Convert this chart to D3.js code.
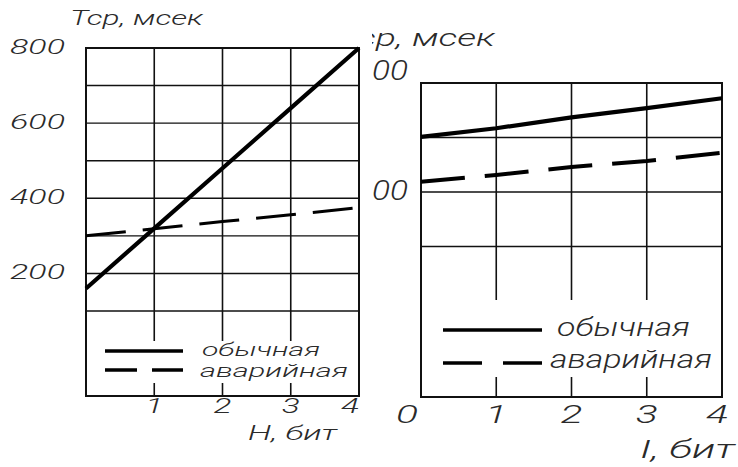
<!DOCTYPE html>
<html>
<head>
<meta charset="utf-8">
<script src="https://cdn.jsdelivr.net/npm/d3@7"></script>
<style>
  html, body { margin: 0; padding: 0; background: #fff; }
  svg { display: block; }
  text { font-family: Roboto, "DejaVu Sans", sans-serif; font-style: italic; font-weight: 300; fill: #2a2a2a; }
</style>
</head>
<body>
<svg id="chart" width="738" height="467"></svg>
<script>
// ---------- data ----------
const hBits = [0, 1, 2, 3, 4];
const leftNormal = [160, 320, 480, 640, 800];
const leftEmergency = [300, 319, 338, 356, 375];
const leftYTicks = [200, 400, 600, 800];
const leftXTicks = [1, 2, 3, 4];
const leftGridY = [100, 200, 300, 400, 500, 600, 700];

const iBits = [0, 1, 2, 3, 4];
const rightNormal = [701, 717, 737, 754, 772];
const rightEmergency = [619, 631, 646, 657, 672];
const rightYTicks = [600, 800];
const rightXTicks = [0, 1, 2, 3, 4];
const rightGridY = [500, 600, 700, 800];

const seriesNames = ["обычная", "аварийная"];
const yTitle = "Тср, мсек";
const leftXTitle = "Н, бит";
const rightXTitle = "I, бит";

// ---------- helpers ----------
const svg = d3.select("#chart");
const INK = "#111";

function label(g, txt, x, y, size, width) {
  return g.append("text")
    .attr("x", x).attr("y", y)
    .attr("font-size", size)
    .attr("textLength", width)
    .attr("lengthAdjust", "spacingAndGlyphs")
    .text(txt);
}

const lineGen = (x, y) => d3.line().x(d => x(d[0])).y(d => y(d[1]));

// ================= LEFT PANEL =================
{
  const x = d3.scaleLinear().domain([0, 4]).range([86, 359]);
  const y = d3.scaleLinear().domain([100, 800]).range([311, 48]);
  const bottom = 396, gapTop = 341, gapBot = 383;
  const g = svg.append("g");

  g.selectAll(".hg").data(leftGridY).join("line")
    .attr("x1", x(0)).attr("x2", x(4))
    .attr("y1", d => y(d)).attr("y2", d => y(d))
    .attr("stroke", INK).attr("stroke-width", 1.4);
  [1, 2, 3].forEach(v => {
    g.append("line").attr("x1", x(v)).attr("x2", x(v)).attr("y1", y(800)).attr("y2", gapTop)
      .attr("stroke", INK).attr("stroke-width", 1.6);
    g.append("line").attr("x1", x(v)).attr("x2", x(v)).attr("y1", gapBot).attr("y2", bottom)
      .attr("stroke", INK).attr("stroke-width", 1.6);
  });
  g.append("rect").attr("x", x(0)).attr("y", y(800))
    .attr("width", x(4) - x(0)).attr("height", bottom - y(800))
    .attr("fill", "none").attr("stroke", INK).attr("stroke-width", 2);

  g.append("path").datum(hBits.map((h, i) => [h, leftEmergency[i]]))
    .attr("d", lineGen(x, y)).attr("fill", "none").attr("stroke", "#000")
    .attr("stroke-width", 3).attr("stroke-dasharray", "40,17");
  g.append("path").datum(hBits.map((h, i) => [h, leftNormal[i]]))
    .attr("d", lineGen(x, y)).attr("fill", "none").attr("stroke", "#000")
    .attr("stroke-width", 4.2);

  leftYTicks.forEach(v => label(g, String(v), 10, y(v) + 6, 21, 55));
  leftXTicks.forEach(v => label(g, String(v), x(v) - 9 - (v === 4 ? 9 : 0), 413, 21, 18));
  label(g, yTitle, 70, 25, 21, 133);
  label(g, leftXTitle, 248, 440, 21, 89);

  g.append("line").attr("x1", 105).attr("x2", 183).attr("y1", 351).attr("y2", 351)
    .attr("stroke", "#000").attr("stroke-width", 3.4);
  g.append("line").attr("x1", 105).attr("x2", 183).attr("y1", 370).attr("y2", 370)
    .attr("stroke", "#000").attr("stroke-width", 3.4).attr("stroke-dasharray", "32,15");
  label(g, seriesNames[0], 202, 356, 19, 118);
  label(g, seriesNames[1], 200, 377, 19, 148);
}

// ================= RIGHT PANEL =================
{
  svg.append("defs").append("clipPath").attr("id", "rclip")
    .append("rect").attr("x", 372).attr("y", 0).attr("width", 366).attr("height", 467);
  const x = d3.scaleLinear().domain([0, 4]).range([421, 722]);
  const y = d3.scaleLinear().domain([600, 800]).range([192, 83]);
  const bottom = 397, gapTop = 300, gapBot = 377;
  const g = svg.append("g").attr("clip-path", "url(#rclip)");

  g.selectAll(".hg").data(rightGridY).join("line")
    .attr("x1", x(0)).attr("x2", x(4))
    .attr("y1", d => y(d)).attr("y2", d => y(d))
    .attr("stroke", INK).attr("stroke-width", 1.4);
  [1, 2, 3].forEach(v => {
    g.append("line").attr("x1", x(v)).attr("x2", x(v)).attr("y1", y(800)).attr("y2", gapTop)
      .attr("stroke", INK).attr("stroke-width", 1.6);
    g.append("line").attr("x1", x(v)).attr("x2", x(v)).attr("y1", gapBot).attr("y2", bottom)
      .attr("stroke", INK).attr("stroke-width", 1.6);
  });
  g.append("rect").attr("x", x(0)).attr("y", y(800))
    .attr("width", x(4) - x(0)).attr("height", bottom - y(800))
    .attr("fill", "none").attr("stroke", INK).attr("stroke-width", 2);

  g.append("path").datum(iBits.map((h, i) => [h, rightEmergency[i]]))
    .attr("d", lineGen(x, y)).attr("fill", "none").attr("stroke", "#000")
    .attr("stroke-width", 4).attr("stroke-dasharray", "44,20");
  g.append("path").datum(iBits.map((h, i) => [h, rightNormal[i]]))
    .attr("d", lineGen(x, y)).attr("fill", "none").attr("stroke", "#000")
    .attr("stroke-width", 4.2);

  // y tick labels (cut off on the left, as in the source image)
  rightYTicks.forEach(v => label(g, String(v), 354, y(v) + (v === 800 ? -3 : 8), 27, 54));
  rightXTicks.forEach(v => label(g, String(v), x(v) - 11 - (v === 0 ? 14 : 0) - (v === 4 ? 5 : 0), 423, 25, 22));
  label(g, yTitle, 337, 46, 24, 158);
  label(g, rightXTitle, 640, 458, 26, 95);

  g.append("line").attr("x1", 443).attr("x2", 542).attr("y1", 330).attr("y2", 330)
    .attr("stroke", "#000").attr("stroke-width", 3.6);
  g.append("line").attr("x1", 443).attr("x2", 542).attr("y1", 363).attr("y2", 363)
    .attr("stroke", "#000").attr("stroke-width", 3.6).attr("stroke-dasharray", "39,21");
  label(g, seriesNames[0], 557, 336, 25, 133);
  label(g, seriesNames[1], 550, 368, 25, 162);
}
</script>
</body>
</html>
